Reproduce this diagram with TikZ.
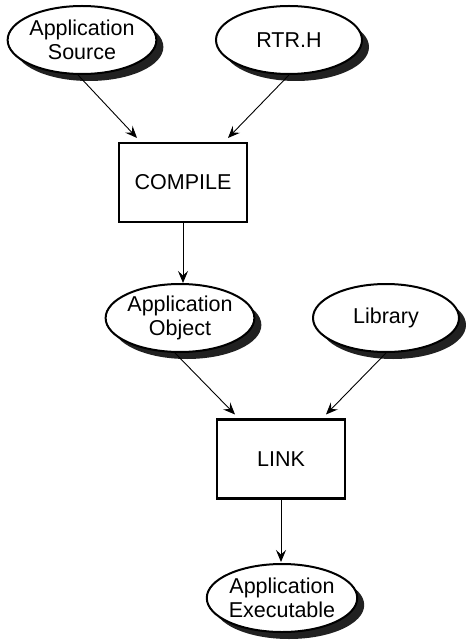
\documentclass[tikz,border=0pt]{standalone}
\usepackage{fontspec}
\setmainfont{Liberation Sans}
\usetikzlibrary{arrows.meta,shapes.geometric,shadows,calc}
\tikzset{
  file/.style={ellipse, draw=black, line width=2pt, fill=white, minimum width=146pt, minimum height=68pt,
    inner sep=0pt, align=center, font=\fontsize{21.5}{23.5}\selectfont,
    drop shadow={shadow xshift=7pt, shadow yshift=-7pt, fill=black!87, opacity=1}},
  proc/.style={rectangle, draw=black, line width=2.6pt, fill=white, minimum width=128pt, minimum height=79pt,
    inner sep=0pt, font=\fontsize{21.5}{23.5}\selectfont},
  flow/.style={line width=0.9pt, -{Stealth[length=12pt,width=10pt,inset=4.5pt]}, shorten >=1pt}
}
\begin{document}
\begin{tikzpicture}[x=1pt,y=-1pt]
\useasboundingbox (0,0) rectangle (465,644);
\node[file] (src) at (82,40) {Application\\Source};
\node[file] (rtr) at (289,40) {RTR.H};
\node[proc] (compile) at (183,182.5) {COMPILE};
\node[file] (obj) at (180,318) {Application\\Object};
\node[file] (lib) at (386,318) {Library};
\node[proc] (link) at (281,459) {LINK};
\node[file] (exe) at (282,598) {Application\\Executable};
\draw[flow] ($(src.south)+(-4,0)$) -- ($(compile.north west)+(20,-3)$);
\draw[flow] (rtr.south) -- ($(compile.north east)+(-21,-3)$);
\draw[flow] (compile.south) -- ($(compile.south |- obj.north)+(0,1)$);
\draw[flow] ($(obj.south)+(-5,0)$) -- ($(link.north west)+(20,-3)$);
\draw[flow] (lib.south) -- ($(link.north east)+(-21,-3)$);
\draw[flow] (link.south) -- ($(link.south |- exe.north)+(0,0)$);
\end{tikzpicture}
\end{document}
